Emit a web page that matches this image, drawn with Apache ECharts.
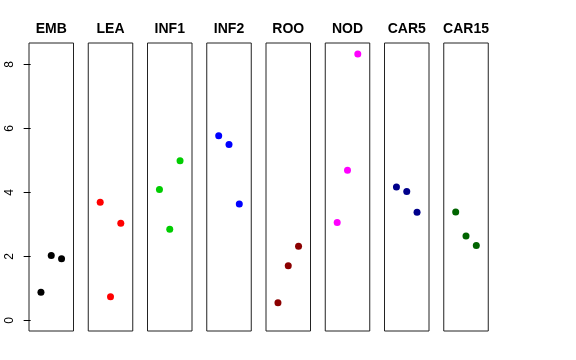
<!DOCTYPE html>
<html>
<head>
<meta charset="utf-8">
<script src="https://cdn.jsdelivr.net/npm/echarts@6/dist/echarts.min.js"></script>
<style>html,body{margin:0;padding:0;background:#fff}#c{width:576px;height:360px}</style>
</head>
<body>
<div id="c"></div>
<script>
var categories = ["EMB", "LEA", "INF1", "INF2", "ROO", "NOD", "CAR5", "CAR15"];
var pointIndex = [1, 2, 3];
var EMB = [0.88, 2.03, 1.93];
var LEA = [3.69, 0.74, 3.04];
var INF1 = [4.09, 2.85, 4.99];
var INF2 = [5.77, 5.50, 3.64];
var ROO = [0.55, 1.71, 2.32];
var NOD = [3.06, 4.69, 8.33];
var CAR5 = [4.17, 4.03, 3.38];
var CAR15 = [3.39, 2.64, 2.34];
var yTicks = [0, 2, 4, 6, 8];
var colors = ["#000000", "#FF0000", "#00CD00", "#0000FF", "#8B0000", "#FF00FF", "#00008B", "#006400"];

var seriesValues = [EMB, LEA, INF1, INF2, ROO, NOD, CAR5, CAR15];
var grids = [], xAxes = [], yAxes = [], series = [];
var left0 = 29, step = 59.25, w = 44.5;
for (var i = 0; i < categories.length; i++) {
  var l = left0 + step * i;
  grids.push({left: l, width: w, top: 43, height: 288, show: true, borderColor: '#222', borderWidth: 1, backgroundColor: 'transparent'});
  xAxes.push({
    type: 'value', gridIndex: i, min: -0.16, max: 4.16, position: 'top',
    name: categories[i], nameLocation: 'middle', nameGap: 14,
    nameTextStyle: {fontFamily: 'Liberation Sans', fontSize: 14, fontWeight: 'bold', color: '#000', verticalAlign: 'middle'},
    axisLine: {show: false}, axisTick: {show: false}, axisLabel: {show: false}, splitLine: {show: false}
  });
  yAxes.push({
    type: 'value', gridIndex: i, min: -0.33, max: 8.67,
    show: i === 0,
    splitLine: {show: false},
    axisLine: {show: false},
    axisTick: {show: i === 0, inside: false, length: 7, customValues: yTicks, lineStyle: {color: '#000'}},
    axisLabel: {show: i === 0, rotate: 90, margin: 13, customValues: yTicks, fontFamily: 'Liberation Sans', fontSize: 12, color: '#000'}
  });
  var d = [];
  for (var j = 0; j < pointIndex.length; j++) d.push([pointIndex[j], seriesValues[i][j]]);
  series.push({type: 'scatter', xAxisIndex: i, yAxisIndex: i, data: d, symbolSize: 7, itemStyle: {color: colors[i], opacity: 1}, silent: true});
}
var chart = echarts.init(document.getElementById('c'), null, {renderer: 'canvas'});
chart.setOption({animation: false, backgroundColor: '#fff', grid: grids, xAxis: xAxes, yAxis: yAxes, series: series});
</script>
</body>
</html>
